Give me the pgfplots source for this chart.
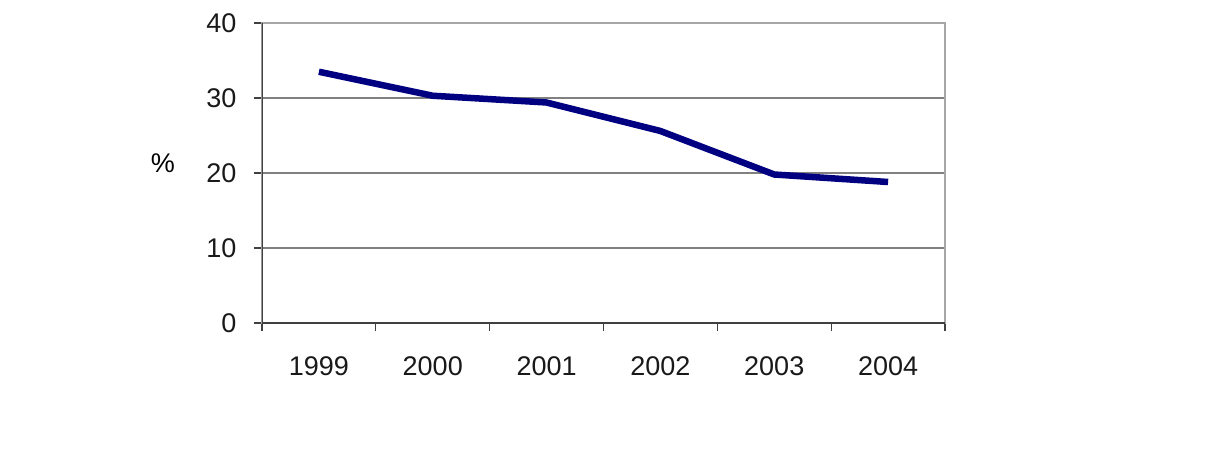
\documentclass[border=0pt]{standalone}
\usepackage{fontspec}
\setmainfont{Liberation Sans}
\usepackage{pgfplots}
\pgfplotsset{compat=1.18}
\definecolor{navyline}{RGB}{0,0,128}
\definecolor{gridgray}{RGB}{128,128,128}
\begin{document}
\begin{tikzpicture}
\begin{axis}[
  scale only axis,
  width=683pt, height=300pt,
  xmin=-0.5, xmax=5.5,
  ymin=0, ymax=40,
  xtick pos=bottom, ytick pos=left,
  xtick={0,1,2,3,4,5},
  xticklabels={1999,2000,2001,2002,2003,2004},
  major x tick style={draw=none},
  minor xtick={-0.5,0.5,1.5,2.5,3.5,4.5,5.5},
  minor x tick style={black!75, line width=1.2pt},
  ytick={0,10,20,30,40},
  ymajorgrids,
  major grid style={gridgray, line width=1.2pt},
  y tick style={black!75, line width=1.2pt},
  tick align=outside,
  major tick length=8pt,
  minor tick length=8pt,
  axis line style={gridgray!70, line width=1.2pt},
  /pgf/number format/assume math mode=true,
  tick label style={font=\fontsize{27}{32}\selectfont, text=black!90},
  xticklabel style={yshift=-22pt},
  yticklabel style={xshift=-14pt},
  ylabel={\%},
  every axis y label/.style={at={(rel axis cs:-0.145,0.533)}, anchor=center, font=\fontsize{27}{32}\selectfont},
]
\addplot[navyline, line width=6.5pt, line join=round] coordinates {
  (0,33.5) (1,30.3) (2,29.4) (3,25.6) (4,19.8) (5,18.8)
};
\draw[black!75, line width=1.2pt] (rel axis cs:0,1) -- (rel axis cs:0,0) -- (rel axis cs:1,0);
\end{axis}
\path (current axis.south west) ++(-262pt,-137pt) rectangle ++(1206pt,460pt);
\end{tikzpicture}
\end{document}
